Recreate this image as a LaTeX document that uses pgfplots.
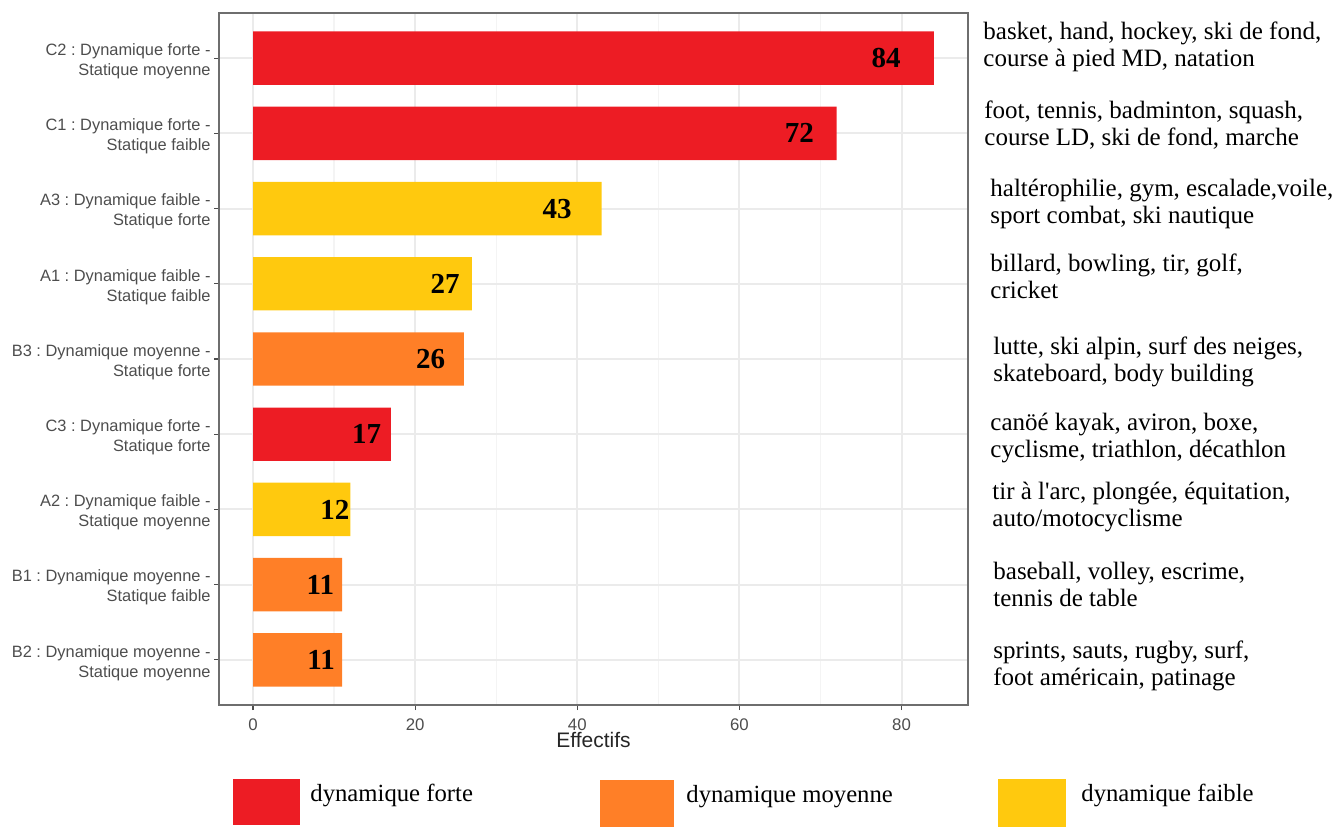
\documentclass[border=0pt]{standalone}
\usepackage{fontspec}
\setmainfont{Liberation Serif}
\newfontfamily\sansf{Liberation Sans}
\usepackage{pgfplots}
\pgfplotsset{compat=1.18}
\frenchspacing
\definecolor{rouge}{HTML}{ED1C24}
\definecolor{orangeb}{HTML}{FF7F27}
\definecolor{jaune}{HTML}{FFC90E}
\definecolor{gridmaj}{HTML}{EBEBEB}
\definecolor{gridmin}{HTML}{F4F4F4}
\definecolor{cadre}{HTML}{6E6E6E}
\definecolor{ticklab}{HTML}{4D4D4D}

% valeurs des barres : effectif, position (0 = B2 en bas ... 8 = C2 en haut)
\pgfplotstableread{
x y
17 3
72 7
84 8
}\forte
\pgfplotstableread{
x y
11 0
11 1
26 4
}\moyenne
\pgfplotstableread{
x y
12 2
27 5
43 6
}\faible
% position des etiquettes de valeur
\pgfplotstableread{
x y lab
8.4 0 11
8.3 1 11
10.1 2 12
14.0 3 17
21.9 4 26
23.7 5 27
37.5 6 43
67.4 7 72
78.1 8 84
}\etiq

\begin{document}
\begin{tikzpicture}
\path[use as bounding box] (0pt,0pt) rectangle (669pt,413.5pt);
\begin{axis}[
  at={(109.5pt,61pt)}, anchor=south west,
  scale only axis, width=374.5pt, height=346pt,
  xmin=-4.2, xmax=88.2, ymin=-0.6, ymax=8.6,
  xtick={0,20,...,80}, minor xtick={10,30,50,70},
  ytick={0,...,8},
  yticklabels={
    {B2 : Dynamique moyenne -\\Statique moyenne},
    {B1 : Dynamique moyenne -\\Statique faible},
    {A2 : Dynamique faible -\\Statique moyenne},
    {C3 : Dynamique forte -\\Statique forte},
    {B3 : Dynamique moyenne -\\Statique forte},
    {A1 : Dynamique faible -\\Statique faible},
    {A3 : Dynamique faible -\\Statique forte},
    {C1 : Dynamique forte -\\Statique faible},
    {C2 : Dynamique forte -\\Statique moyenne}},
  xmajorgrids, xminorgrids, ymajorgrids,
  major grid style={gridmaj, line width=1pt},
  minor grid style={gridmin, line width=0.7pt},
  axis line style={cadre, line width=1pt},
  tick pos=left,
  tick align=outside, major tick length=2.5pt, minor tick length=0pt,
  tick style={ticklab, line width=0.6pt},
  ticklabel style={font=\sansf\fontsize{8.4}{10}\selectfont, text=ticklab},
  yticklabel style={align=right, inner sep=1.5pt, yshift=-1.5pt,
    font=\sansf\fontsize{8.2}{10}\selectfont},
  xticklabel style={inner sep=0pt, yshift=-4pt},
  /pgf/number format/assume math mode=true,
  xlabel={Effectifs},
  xlabel style={at={(axis description cs:0.5,0)}, anchor=center, yshift=-17.5pt,
    font=\sansf\fontsize{10.5}{12}\selectfont, text=black!85},
]
\addplot[xbar, bar width=0.71, bar shift=0pt, fill=rouge, draw=none] table {\forte};
\addplot[xbar, bar width=0.71, bar shift=0pt, fill=orangeb, draw=none] table {\moyenne};
\addplot[xbar, bar width=0.71, bar shift=0pt, fill=jaune, draw=none] table {\faible};
\addplot[draw=none, mark=none, nodes near coords, point meta=explicit symbolic,
  nodes near coords style={anchor=center, font=\bfseries\fontsize{14.5}{15}\selectfont, text=black}]
  table[meta=lab] {\etiq};
\end{axis}

\begin{scope}[x=0.5pt, y=0.5pt]
\begin{scope}[every node/.style={anchor=west, align=left, inner sep=0pt,
    font=\fontsize{12.5}{13.5}\selectfont}]
\node at (983,779) {\strut basket, hand, hockey, ski de fond,\\course à pied MD, natation\strut};
\node at (984,700) {\strut foot, tennis, badminton, squash,\\course LD, ski de fond, marche\strut};
\node at (990,622) {\strut haltérophilie, gym, escalade,voile,\\sport combat, ski nautique\strut};
\node at (990,547) {\strut billard, bowling, tir, golf,\\cricket\strut};
\node at (993,464) {\strut lutte, ski alpin, surf des neiges,\\skateboard, body building\strut};
\node at (990,388) {\strut canöé kayak, aviron, boxe,\\cyclisme, triathlon, décathlon\strut};
\node at (992,319) {\strut tir à l\textquotesingle arc, plongée, équitation,\\auto/motocyclisme\strut};
\node at (993,239) {\strut baseball, volley, escrime,\\tennis de table\strut};
\node at (993,160) {\strut sprints, sauts, rugby, surf,\\foot américain, patinage\strut};
\end{scope}

% legende
\fill[rouge] (233,2) rectangle (300,48);
\fill[orangeb] (600,0) rectangle (674,47);
\fill[jaune] (998,0) rectangle (1066,48);
\begin{scope}[every node/.style={anchor=west, inner sep=0pt,
    font=\fontsize{12.35}{13.5}\selectfont}]
\node at (310,32) {dynamique forte};
\node at (686,30) {dynamique moyenne};
\node at (1081,32) {dynamique faible};
\end{scope}
\end{scope}
\end{tikzpicture}
\end{document}
